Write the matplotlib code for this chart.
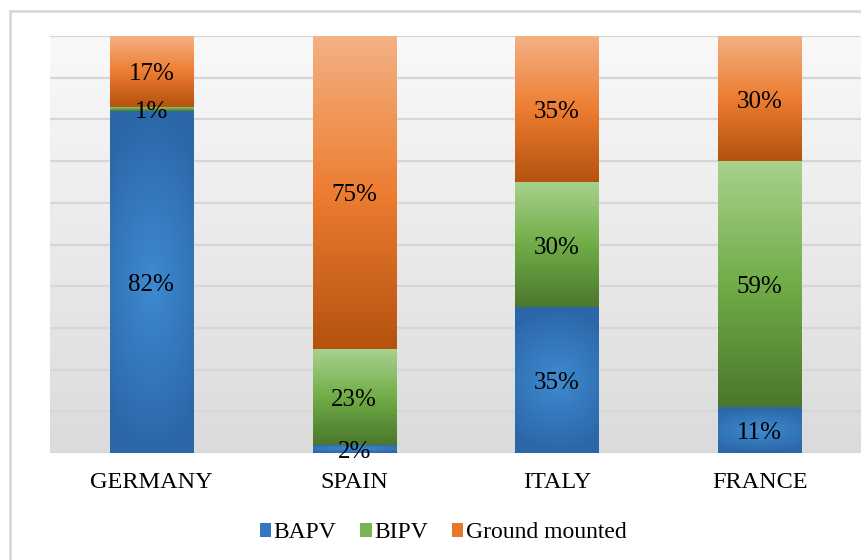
import numpy as np
import matplotlib
matplotlib.use('Agg')
from matplotlib import pyplot as plt
from matplotlib.colors import LinearSegmentedColormap
from matplotlib.patches import Patch
from matplotlib.lines import Line2D
from matplotlib.transforms import offset_copy

plt.rcParams['font.family'] = ['Liberation Serif', 'DejaVu Serif']

countries = ['GERMANY', 'SPAIN', 'ITALY', 'FRANCE']
series_names = ['BAPV', 'BIPV', 'Ground mounted']
bapv = [82, 2, 35, 11]
bipv = [1, 23, 30, 59]
ground = [17, 75, 35, 30]

# 渐变色 (上 -> 中 -> 下)
grad_colors = {
    'BAPV': ['#3e8ad1', '#2b67a8'],   # 中心 -> 边缘
    'BIPV': ['#a9d18e', '#70ad47', '#4c772d'],
    'Ground mounted': ['#f4b183', '#ed7d31', '#b4520e'],
}
legend_colors = {'BAPV': '#3479c0', 'BIPV': '#7ab452', 'Ground mounted': '#e8772c'}

fig = plt.figure(figsize=(8.61, 5.60), dpi=100)
ax = fig.add_axes([50 / 861, 107 / 560, 811 / 861, 417 / 560])

# 背景渐变
bg = np.linspace(0, 1, 256).reshape(-1, 1)
bg_cmap = LinearSegmentedColormap.from_list('bg', ['#f9f9f9', '#dbdbdb'])
ax.imshow(bg, cmap=bg_cmap, aspect='auto', extent=[0, 1, 0, 1],
          transform=ax.transAxes, zorder=0, origin='upper')

# 标签稍微下移
label_trans = offset_copy(ax.transData, fig=fig, y=-3, units='dots')

x = np.arange(len(countries))
width = 0.41
bottom = np.zeros(len(countries))
for name, vals in zip(series_names, [bapv, bipv, ground]):
    bars = ax.bar(x, vals, width, bottom=bottom, facecolor='none',
                  edgecolor='none', zorder=3)
    cmap = LinearSegmentedColormap.from_list(name, grad_colors[name])
    for b, v in zip(bars, vals):
        x0, y0, w, h = b.get_x(), b.get_y(), b.get_width(), b.get_height()
        if name == 'BAPV':
            # 中心偏亮, 四周偏暗
            yy = np.linspace(-1, 1, 64).reshape(-1, 1)
            xx = np.linspace(-1, 1, 64).reshape(1, -1)
            img = np.minimum(np.sqrt(yy ** 2 + 0.4 * xx ** 2), 1)
        else:
            img = np.linspace(0, 1, 128).reshape(-1, 1)
        ax.imshow(img, cmap=cmap, vmin=0, vmax=1, aspect='auto',
                  extent=[x0, x0 + w, y0, y0 + h], origin='upper', zorder=3)
        ax.text(x0 + w / 2, y0 + h / 2, f'{v}%', ha='center', va='center',
                fontsize=18, color='black', zorder=5, transform=label_trans)
    bottom += np.array(vals)

ax.set_xlim(-0.5, 3.5)
ax.set_ylim(0, 100)
ax.set_yticks(np.arange(0, 101, 10))
ax.yaxis.grid(True, color='#d6d6d6', linewidth=1.6, zorder=1)
ax.set_axisbelow(True)
ax.tick_params(axis='y', left=False, labelleft=False)
ax.set_xticks(x)
ax.set_xticklabels(countries, fontsize=17.5)
ax.tick_params(axis='x', length=0, pad=14)
for s in ax.spines.values():
    s.set_visible(False)

# 图例
handles = [Patch(facecolor=legend_colors[n], edgecolor='none', label=n) for n in series_names]
fig.legend(handles=handles, loc='center', bbox_to_anchor=(443 / 861, 27 / 560),
           ncol=3, frameon=False, fontsize=17, handlelength=0.5, handleheight=0.5,
           handletextpad=0.1, columnspacing=1.0, borderpad=0)

# 外框
fig.add_artist(Line2D([10 / 861, 10 / 861], [0, 1 - 11 / 560], color='#d9d9d9', lw=2,
                      transform=fig.transFigure))
fig.add_artist(Line2D([10 / 861, 1], [1 - 11 / 560, 1 - 11 / 560], color='#d9d9d9', lw=2,
                      transform=fig.transFigure))

plt.savefig('out.png', dpi=100)
